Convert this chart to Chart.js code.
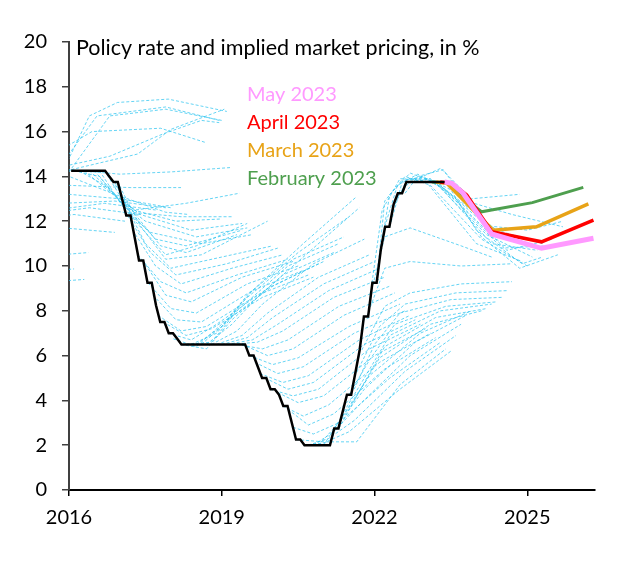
<!DOCTYPE html>
<html>
<head>
<meta charset="utf-8">
<script src="https://cdn.jsdelivr.net/npm/chart.js@4.4.1/dist/chart.umd.min.js"></script>
<style>
html,body{margin:0;padding:0;background:#fff;}
#wrap{width:625px;height:585px;}
</style>
</head>
<body>
<div id="wrap"><canvas id="c" width="625" height="585"></canvas></div>
<script>
// ---- DATA ----
const chartTitle = 'Policy rate and implied market pricing, in %';
const yearTicks = [2016, 2019, 2022, 2025];

// Monthly policy rate (Selic target), Jan 2016 – May 2023
const policyMonths = [];
for (let y = 2016; y <= 2023; y++) for (let m = 1; m <= 12; m++) {
  if (y === 2023 && m > 5) break;
  policyMonths.push(y + '-' + String(m).padStart(2, '0'));
}
const policyRate = [
  14.25,14.25,14.25,14.25,14.25,14.25,14.25,14.25,14.25,14.0,13.75,13.75,
  13.0,12.25,12.25,11.25,10.25,10.25,9.25,9.25,8.25,7.5,7.5,7.0,
  7.0,6.75,6.5,6.5,6.5,6.5,6.5,6.5,6.5,6.5,6.5,6.5,
  6.5,6.5,6.5,6.5,6.5,6.5,6.0,6.0,5.5,5.0,5.0,4.5,
  4.5,4.25,3.75,3.75,3.0,2.25,2.25,2.0,2.0,2.0,2.0,2.0,
  2.0,2.0,2.75,2.75,3.5,4.25,4.25,5.25,6.25,7.75,7.75,9.25,
  9.25,10.75,11.75,11.75,12.75,13.25,13.25,13.75,13.75,13.75,13.75,13.75,
  13.75,13.75,13.75,13.75,13.75
];

// Latest implied market pricing paths [year, %]
const pricingMay2023 = [[2023.375,13.75],[2023.52,13.69],[2023.74,13.25],[2024.30,11.43],[2025.28,10.79],[2026.30,11.24]];
const pricingApr2023 = [[2023.29,13.75],[2023.52,13.69],[2023.81,13.17],[2024.30,11.53],[2025.28,11.08],[2026.30,12.05]];
const pricingMar2023 = [[2023.21,13.75],[2023.42,13.69],[2023.72,13.0],[2024.33,11.6],[2025.18,11.75],[2026.20,12.77]];
const pricingFeb2023 = [[2023.125,13.75],[2023.45,13.7],[2023.75,13.05],[2024.10,12.42],[2025.10,12.83],[2026.10,13.51]];
const latestLabels = ['May 2023','April 2023','March 2023','February 2023'];

// Earlier implied market pricing paths [year, %]
const pastPricing = [
  [[2013.3,7.5],[2014.3,9.6],[2015.3,10.4],[2016.38,10.6]],
  [[2013.2,7.25],[2014.2,9.1],[2015.2,9.7],[2016.1,9.87]],
  [[2013.1,7.25],[2014.1,8.6],[2015.1,9.2],[2016.3,9.4]],
  [[2013.9,9.5],[2014.9,11.3],[2015.9,11.7],[2016.9,11.5]],
  [[2014.1,10.5],[2015.1,12.0],[2016.1,12.3],[2017.1,12.0]],
  [[2014.4,11.0],[2015.4,12.3],[2016.4,12.6],[2017.4,12.3]],
  [[2014.7,11.0],[2015.7,12.5],[2016.7,12.8],[2017.7,12.5]],
  [[2014.9,11.25],[2015.9,12.8],[2016.9,12.9],[2017.9,12.6]],
  [[2015.0,11.75],[2016.0,13.2],[2017.0,13.0],[2018.0,12.6]],
  [[2015.2,12.25],[2016.0,13.6],[2017.2,13.5],[2018.2,13.5]],
  [[2015.35,12.75],[2016.0,14.0],[2016.9,13.2],[2017.9,12.4],[2018.35,12.3]],
  [[2015.45,13.25],[2016.0,14.3],[2017.0,14.1],[2018.0,14.2],[2019.2,14.4]],
  [[2015.55,13.75],[2016.0,14.8],[2016.4,16.7],[2016.95,17.3],[2017.95,17.45],[2019.1,16.9]],
  [[2015.65,14.25],[2016.0,15.4],[2016.45,16.0],[2017.8,16.15],[2018.7,15.5]],
  [[2015.75,14.25],[2016.0,15.0],[2016.55,16.7],[2017.9,17.1],[2018.95,16.5]],
  [[2015.85,14.25],[2016.0,14.5],[2016.8,14.9],[2017.85,15.9],[2018.6,16.5],[2018.95,16.4]],
  [[2015.95,14.25],[2016.6,14.6],[2017.35,15.0],[2018.0,16.1],[2019.05,17.0]],
  [[2015.7,14.25],[2016.0,14.2],[2016.8,16.7],[2017.9,17.0],[2019.0,16.5]],
  [[2016.1,14.25],[2016.6,14.0],[2017.1,12.6],[2018.1,12.0],[2019.0,12.1]],
  [[2016.2,14.25],[2016.7,13.6],[2017.2,12.4],[2018.2,12.2],[2019.2,12.2]],
  [[2016.3,14.25],[2016.8,13.3],[2017.3,12.5],[2018.3,12.8],[2019.35,13.25]],
  [[2016.4,14.25],[2016.9,13.2],[2017.4,12.3],[2018.4,11.6],[2019.4,11.9]],
  [[2016.5,14.25],[2017.0,12.9],[2017.5,12.0],[2018.5,11.3],[2019.5,11.7]],
  [[2016.6,14.25],[2017.1,12.5],[2017.6,11.5],[2018.6,11.0],[2019.6,11.4]],
  [[2016.7,14.25],[2017.2,12.4],[2017.7,11.2],[2018.3,10.9],[2019.4,11.6]],
  [[2016.8,14.0],[2017.3,12.3],[2017.8,10.9],[2018.3,10.6],[2019.3,11.4]],
  [[2016.9,13.75],[2017.3,12.0],[2017.9,10.5],[2018.5,10.9],[2019.5,11.9]],
  [[2016.95,13.75],[2017.4,11.8],[2017.9,10.3],[2018.6,10.5],[2019.9,12.0]],
  [[2017.05,13.0],[2017.5,11.0],[2018.0,9.9],[2019.0,10.4],[2020.0,10.9]],
  [[2017.15,12.25],[2017.6,10.6],[2018.1,9.6],[2019.1,10.1],[2020.1,10.8]],
  [[2017.25,11.6],[2017.7,10.0],[2018.2,9.2],[2019.2,9.9],[2020.2,10.5]],
  [[2017.35,10.5],[2017.8,9.3],[2018.3,8.8],[2019.3,9.6],[2020.3,10.3]],
  [[2017.45,10.25],[2017.9,8.7],[2018.4,8.4],[2019.4,9.5],[2020.4,10.2]],
  [[2017.55,9.25],[2018.0,8.1],[2018.5,7.9],[2019.5,9.2],[2020.5,10.0]],
  [[2017.65,8.7],[2018.1,7.6],[2018.6,7.5],[2019.6,8.9],[2020.6,9.8]],
  [[2017.75,7.8],[2018.2,7.1],[2018.7,7.3],[2019.7,8.7],[2020.7,9.6]],
  [[2017.85,7.5],[2018.3,6.9],[2018.8,7.2],[2019.8,8.6],[2020.8,9.5]],
  [[2017.95,7.0],[2018.4,6.7],[2018.9,7.4],[2019.9,9.0],[2020.9,10.1]],
  [[2018.05,6.75],[2018.5,6.4],[2019.0,7.4],[2020.0,9.1],[2021.0,10.2]],
  [[2018.2,6.5],[2018.7,6.3],[2019.2,7.6],[2020.2,9.6],[2021.2,10.6]],
  [[2018.3,6.5],[2018.8,6.6],[2019.3,8.0],[2020.3,10.0],[2021.3,11.0]],
  [[2018.4,6.5],[2018.9,7.0],[2019.4,8.4],[2020.4,10.3],[2021.4,11.3]],
  [[2018.5,6.5],[2019.0,7.3],[2019.5,8.7],[2020.5,10.6],[2021.5,12.2]],
  [[2018.6,6.5],[2019.1,7.5],[2019.6,8.9],[2020.6,11.0],[2021.65,13.1]],
  [[2018.7,6.5],[2019.2,7.4],[2019.7,8.6],[2020.7,10.6],[2021.7,12.6]],
  [[2018.8,6.5],[2019.3,7.1],[2019.8,8.3],[2020.8,10.1],[2021.8,11.2]],
  [[2018.9,6.5],[2019.4,6.9],[2019.9,7.9],[2020.9,9.5],[2021.9,10.5]],
  [[2019.0,6.5],[2019.5,6.8],[2020.0,7.7],[2021.0,9.2],[2022.0,10.2]],
  [[2019.1,6.5],[2019.6,6.7],[2020.1,7.4],[2021.1,8.9],[2022.1,9.9]],
  [[2019.2,6.5],[2019.7,6.6],[2020.2,7.1],[2021.2,8.6],[2022.2,9.5]],
  [[2019.3,6.5],[2019.8,6.3],[2020.3,6.7],[2021.3,8.2],[2022.3,9.1]],
  [[2019.4,6.5],[2019.9,6.0],[2020.4,6.3],[2021.4,7.8],[2022.4,8.8]],
  [[2019.55,6.0],[2020.0,5.6],[2020.5,5.9],[2021.5,7.3],[2022.5,8.3]],
  [[2019.65,5.7],[2020.1,5.2],[2020.6,5.5],[2021.6,7.0],[2022.6,8.0]],
  [[2019.75,5.2],[2020.2,4.8],[2020.7,5.1],[2021.7,6.7],[2022.7,7.8]],
  [[2019.85,5.0],[2020.3,4.5],[2020.8,4.8],[2021.8,6.5],[2022.8,7.6]],
  [[2019.95,4.5],[2020.4,4.2],[2020.9,4.5],[2021.9,6.3],[2022.9,7.4]],
  [[2020.1,4.35],[2020.5,3.9],[2021.0,4.2],[2022.0,6.0],[2023.0,7.2]],
  [[2020.2,3.75],[2020.6,3.3],[2021.1,3.8],[2022.1,5.7],[2023.1,7.0]],
  [[2020.3,3.6],[2020.7,2.9],[2021.2,3.4],[2022.2,5.4],[2023.2,6.8]],
  [[2020.4,2.8],[2020.8,2.5],[2021.3,3.0],[2022.3,5.0],[2023.3,6.6]],
  [[2020.46,2.25],[2021.0,2.15],[2021.65,2.15],[2022.5,4.7],[2023.4,6.3]],
  [[2020.6,2.0],[2021.0,2.1],[2021.5,2.6],[2022.5,4.5],[2023.5,6.2]],
  [[2020.7,2.0],[2021.1,2.3],[2021.6,3.1],[2022.6,5.3],[2023.6,6.9]],
  [[2020.8,2.0],[2021.2,2.6],[2021.7,3.8],[2022.7,6.0],[2023.7,7.4]],
  [[2020.9,2.0],[2021.3,3.0],[2021.8,4.5],[2022.8,6.6],[2023.8,7.8]],
  [[2021.0,2.0],[2021.4,3.4],[2021.9,5.1],[2022.9,7.0],[2023.9,8.0]],
  [[2021.2,2.75],[2021.6,4.0],[2022.1,5.9],[2023.1,7.4],[2024.1,8.0]],
  [[2021.3,2.75],[2021.7,4.4],[2022.2,6.4],[2023.2,7.7],[2024.2,8.1]],
  [[2021.4,3.5],[2021.8,5.0],[2022.3,6.9],[2023.3,8.0],[2024.3,8.3]],
  [[2021.5,4.25],[2021.9,5.8],[2022.4,7.4],[2023.4,8.2],[2024.4,8.4]],
  [[2021.6,4.5],[2022.0,6.5],[2022.5,7.9],[2023.5,8.5],[2024.5,8.6]],
  [[2021.65,5.25],[2022.1,7.3],[2022.6,8.3],[2023.6,8.8],[2024.6,8.9]],
  [[2021.75,6.25],[2022.2,8.2],[2022.7,8.8],[2023.7,9.2],[2024.7,9.3]],
  [[2021.85,7.75],[2022.2,9.9],[2022.7,10.2],[2023.7,10.0],[2024.7,10.1]],
  [[2021.9,8.5],[2022.2,11.3],[2022.7,11.7],[2023.7,10.9],[2024.3,10.4]],
  [[2021.95,9.25],[2022.15,12.5],[2022.5,13.9],[2023.0,13.8],[2024.0,11.0],[2024.9,10.2]],
  [[2022.05,9.5],[2022.2,12.9],[2022.6,14.0],[2023.1,13.6],[2024.1,11.2],[2025.0,10.0]],
  [[2022.12,10.75],[2022.3,13.2],[2022.7,14.15],[2023.2,13.7],[2024.2,11.4],[2025.1,10.4]],
  [[2022.2,11.75],[2022.45,13.6],[2022.85,14.1],[2023.3,13.5],[2024.3,11.0],[2025.2,10.7]],
  [[2022.3,11.75],[2022.55,13.8],[2022.95,14.0],[2023.4,13.4],[2024.4,11.6],[2025.3,11.0]],
  [[2022.4,12.75],[2022.65,13.9],[2023.1,13.9],[2023.6,12.9],[2024.5,10.8],[2025.4,10.9]],
  [[2022.5,13.25],[2022.75,13.9],[2023.2,13.8],[2023.7,12.7],[2024.6,10.7],[2025.5,11.2]],
  [[2022.6,13.25],[2022.85,14.0],[2023.35,14.3],[2023.8,12.9],[2024.7,12.3],[2025.7,11.75]],
  [[2022.7,13.75],[2022.95,14.0],[2023.3,14.36],[2023.9,13.0],[2024.85,13.2]],
  [[2022.8,13.75],[2023.05,13.9],[2023.5,13.4],[2024.0,11.6],[2024.9,10.1],[2025.3,10.4]],
  [[2022.9,13.75],[2023.15,13.8],[2023.6,13.0],[2024.1,11.3],[2024.85,9.9],[2025.6,10.5]],
  [[2023.0,13.75],[2023.25,13.7],[2023.7,12.8],[2024.2,11.8],[2025.0,11.6],[2025.7,12.0]]
];

// ---- CHART ----
const FONT = 'Lato';
const toXY = arr => arr.map(([x, y]) => ({x, y}));
const monthToYear = s => { const [y, m] = s.split('-').map(Number); return y + (m - 0.5) / 12; };
const policyPoints = policyMonths.map((mth, i) => ({x: monthToYear(mth), y: policyRate[i]}));

const latestColors = ['#FF99FF', '#FF0000', '#E8A317', '#4E9F4E'];
const latestWidths = [5, 3.5, 3.5, 3];
const latestData = [pricingMay2023, pricingApr2023, pricingMar2023, pricingFeb2023];

const datasets = [];
datasets.push({label: 'Policy rate', data: policyPoints, borderColor: '#000', borderWidth: 2.5, order: 0});
latestData.forEach((d, i) => datasets.push({
  label: latestLabels[i], data: toXY(d), borderColor: latestColors[i], borderWidth: latestWidths[i], order: 1 + i
}));
pastPricing.forEach((d, i) => datasets.push({
  label: 'past' + i, data: toXY(d), borderColor: 'rgba(40,195,240,0.9)', borderWidth: 0.8,
  borderDash: [3, 2], order: 10
}));

const textPlugin = {
  id: 'texts',
  afterDraw(chart) {
    const {ctx, chartArea} = chart;
    ctx.save();
    ctx.textBaseline = 'alphabetic';
    ctx.textAlign = 'left';
    ctx.font = '21.5px ' + FONT;
    ctx.fillStyle = '#000';
    ctx.fillText(chartTitle, chartArea.left + 7, chartArea.top + 13);
    ctx.font = '20px ' + FONT;
    latestLabels.forEach((t, i) => {
      ctx.fillStyle = latestColors[i];
      ctx.fillText(t, chartArea.left + 178, chartArea.top + 59 + i * 28);
    });
    ctx.restore();
  }
};

new Chart(document.getElementById('c'), {
  type: 'line',
  data: {datasets},
  options: {
    responsive: false,
    animation: false,
    devicePixelRatio: 1,
    layout: {padding: {top: 42, right: 30, left: 0, bottom: 0}},
    elements: {point: {radius: 0}, line: {tension: 0, fill: false}},
    plugins: {legend: {display: false}, tooltip: {enabled: false}, title: {display: false}},
    scales: {
      x: {
        type: 'linear', min: 2016, max: 2026.33,
        afterFit: s => { s.height = 95; },
        afterBuildTicks: s => { s.ticks = yearTicks.map(v => ({value: v})); },
        ticks: {callback: v => String(v), font: {family: FONT, size: 20}, color: '#000', padding: 10, maxRotation: 0, autoSkip: false, includeBounds: false},
        grid: {drawOnChartArea: false, drawTicks: true, tickLength: 6, color: '#000', lineWidth: 1.5},
        border: {color: '#000', width: 2}
      },
      y: {
        min: 0, max: 20,
        afterFit: s => { s.width = 69; },
        ticks: {stepSize: 2, font: {family: FONT, size: 20}, color: '#000', padding: 15},
        grid: {drawOnChartArea: false, drawTicks: true, tickLength: 7, color: '#404040', lineWidth: 1.5},
        border: {color: '#404040', width: 2}
      }
    }
  },
  plugins: [textPlugin]
});
</script>
</body>
</html>
